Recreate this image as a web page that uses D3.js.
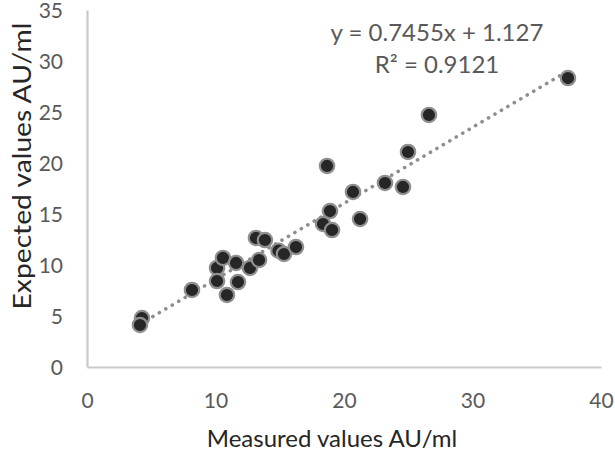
<!DOCTYPE html>
<html>
<head>
<meta charset="utf-8">
<script src="https://cdn.jsdelivr.net/npm/d3@7"></script>
<style>
  html, body { margin: 0; padding: 0; background: #fff; }
  svg { display: block; font-family: Lato, "Open Sans", sans-serif; }
</style>
</head>
<body>
<svg id="chart" width="615" height="456"></svg>
<script>
const measured = [4.28, 4.12, 8.17, 10.12, 10.12, 10.58, 10.89, 11.60, 11.75, 12.68, 13.15, 13.39, 13.85,
  14.9, 15.33, 16.26, 18.37, 18.68, 18.91, 19.07, 20.70, 21.25, 23.19, 24.59, 24.98, 26.61, 37.43];
const expected = [4.80, 4.12, 7.55, 9.71, 8.43, 10.69, 7.06, 10.20, 8.33, 9.71, 12.65, 10.49, 12.45,
  11.4, 11.08, 11.76, 14.02, 19.71, 15.29, 13.43, 17.16, 14.51, 18.04, 17.65, 21.08, 24.71, 28.33];
const xTicks = [0, 10, 20, 30, 40];
const yTicks = [0, 5, 10, 15, 20, 25, 30, 35];
const slope = 0.7455, intercept = 1.127;
const eqLabel = "y = 0.7455x + 1.127";
const r2Label = "R² = 0.9121";
const xTitle = "Measured values AU/ml";
const yTitle = "Expected values AU/ml";

const points = measured.map((m, i) => ({x: m, y: expected[i]}));

const svg = d3.select("#chart");
const m = {left: 87, top: 10, right: 14, bottom: 89};
const W = 615 - m.left - m.right, H = 456 - m.top - m.bottom;
const x = d3.scaleLinear().domain([0, 40]).range([m.left, m.left + W]);
const y = d3.scaleLinear().domain([0, 35]).range([m.top + H, m.top]);

// axes
const xAxis = svg.append("g").attr("transform", `translate(0,${m.top + H})`)
  .call(d3.axisBottom(x).tickValues(xTicks).tickSize(0).tickPadding(26));
const yAxis = svg.append("g").attr("transform", `translate(${m.left},0)`)
  .call(d3.axisLeft(y).tickValues(yTicks).tickSize(0).tickPadding(24));
[xAxis, yAxis].forEach(g => {
  g.select(".domain").attr("stroke", "#c9c9c9").attr("stroke-width", 2.2);
  g.selectAll("text").attr("fill", "#595959").style("font-size", "21px")
    .style("font-family", "Lato, 'Open Sans', sans-serif");
});
yAxis.selectAll("text").attr("dy", "0.38em");

// trendline
const xs = d3.extent(measured);
svg.append("line")
  .attr("x1", x(xs[0])).attr("y1", y(slope * xs[0] + intercept))
  .attr("x2", x(xs[1])).attr("y2", y(slope * xs[1] + intercept))
  .attr("stroke", "#8e8e8e").attr("stroke-width", 3.6)
  .attr("stroke-linecap", "round").attr("stroke-dasharray", "0.1 7.4");

// points
svg.append("g").selectAll("circle").data(points).join("circle")
  .attr("cx", d => x(d.x)).attr("cy", d => y(d.y)).attr("r", 7.2)
  .attr("fill", "#262626").attr("stroke", "#8f8f8f").attr("stroke-width", 2.2);

// equation labels
svg.append("text").attr("x", 437).attr("y", 41).attr("text-anchor", "middle")
  .attr("fill", "#595959").style("font-size", "24px").text(eqLabel);
svg.append("text").attr("x", 437).attr("y", 73).attr("text-anchor", "middle")
  .attr("fill", "#595959").style("font-size", "24px").text(r2Label);

// axis titles
svg.append("text").attr("x", 332).attr("y", 447).attr("text-anchor", "middle")
  .attr("fill", "#262626").style("font-size", "24px").text(xTitle);
svg.append("text").attr("transform", "translate(31,166) rotate(-90) scale(1.13,1)").attr("text-anchor", "middle")
  .attr("fill", "#262626").style("font-size", "25px").text(yTitle);
</script>
</body>
</html>
